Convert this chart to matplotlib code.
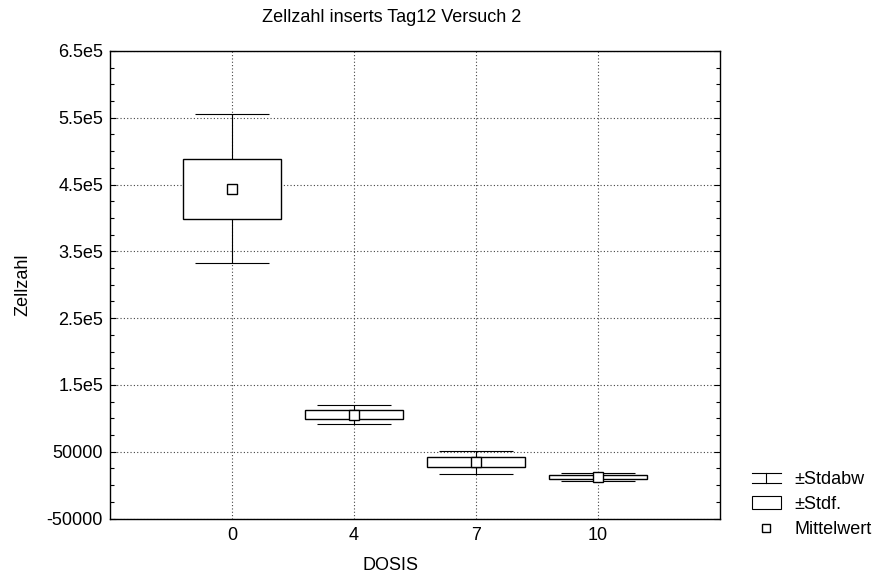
import numpy as np
import matplotlib
matplotlib.use('Agg')
import matplotlib.pyplot as plt
from matplotlib.legend_handler import HandlerBase
from matplotlib.lines import Line2D
from matplotlib.patches import Rectangle
from matplotlib.ticker import MultipleLocator, FixedLocator

plt.rcParams['font.family'] = ['Liberation Sans', 'DejaVu Sans']
plt.rcParams['font.size'] = 13

# data
dosis = ['0', '4', '7', '10']
mittelwert = [444000, 105600, 34300, 11800]
stdf = [45000, 6200, 7500, 3000]        # standard error
stdabw = [111000, 14450, 17200, 6000]   # standard deviation
yticks = [-50000, 50000, 150000, 250000, 350000, 450000, 550000, 650000]
ylabels = ['-50000', '50000', '1.5e5', '2.5e5', '3.5e5', '4.5e5', '5.5e5', '6.5e5']


class IBeamHandler(HandlerBase):
    # legend symbol for the +-Stdabw whisker
    def create_artists(self, legend, orig_handle, xdescent, ydescent,
                       width, height, fontsize, trans):
        x0, x1 = -xdescent, -xdescent + width
        y0, y1 = -ydescent + 1, -ydescent + height - 1
        xm = (x0 + x1) / 2
        arts = [Line2D([x0, x1], [y1, y1]), Line2D([x0, x1], [y0, y0]),
                Line2D([xm, xm], [y0, y1])]
        for a in arts:
            a.set_color('black')
            a.set_linewidth(0.8)
            a.set_transform(trans)
        return arts


fig = plt.figure(figsize=(8.77, 5.76), dpi=100)
ax = fig.add_axes([0.1254, 0.0997, 0.6955, 0.8118])

x = np.arange(len(dosis))
m = np.array(mittelwert)
se = np.array(stdf)
sd = np.array(stdabw)

ax.errorbar(x, m, yerr=sd, fmt='none', ecolor='black', elinewidth=0.8,
            capsize=26.5, capthick=0.8, zorder=2)
ax.bar(x, 2 * se, bottom=m - se, width=0.8, color='white',
       edgecolor='black', linewidth=1.0, zorder=3)
ax.plot(x, m, 's', ms=6.5, mfc='white', mec='black', mew=1.0, zorder=4)

ax.set_xlim(-1, len(dosis))
ax.set_ylim(-50000, 650000)
ax.set_xticks(x)
ax.set_xticklabels(dosis)
ax.yaxis.set_major_locator(FixedLocator(yticks))
ax.set_yticklabels(ylabels)
ax.yaxis.set_minor_locator(MultipleLocator(25000))

ax.grid(True, which='major', linestyle=(0, (1, 2)), color='#444444',
        linewidth=0.8)
ax.set_axisbelow(True)
ax.tick_params(axis='both', which='both', direction='in', right=True,
               top=False)
ax.tick_params(axis='y', which='major', length=4, width=0.8)
ax.tick_params(axis='y', which='minor', length=3, width=0.8)
ax.tick_params(axis='x', which='major', length=0, pad=6)
ax.tick_params(axis='y', pad=5)
for s in ax.spines.values():
    s.set_linewidth(1.0)

fig.text(392 / 877, 1 - 18 / 576, 'Zellzahl inserts Tag12 Versuch 2',
         ha='center', va='center')
fig.text(391 / 877, 1 - 566 / 576, 'DOSIS', ha='center', va='center')
fig.text(23 / 877, 1 - 285 / 576, 'Zellzahl', ha='center', va='center',
         rotation=90)

h_sd = Line2D([], [])
h_se = Rectangle((0, 0), 1, 1, facecolor='white', edgecolor='black',
                 linewidth=0.8)
h_m = Line2D([], [], marker='s', ls='none', ms=6, mfc='white', mec='black')
fig.legend([h_sd, h_se, h_m], ['±Stdabw', '±Stdf.', 'Mittelwert'],
           handler_map={h_sd: IBeamHandler()},
           loc='upper left', bbox_to_anchor=(752 / 877, 1 - 471 / 576),
           frameon=False, handlelength=1.6, handleheight=0.7,
           handletextpad=0.75, labelspacing=0.45, borderaxespad=0,
           borderpad=0)

fig.savefig('out.png', dpi=100)
